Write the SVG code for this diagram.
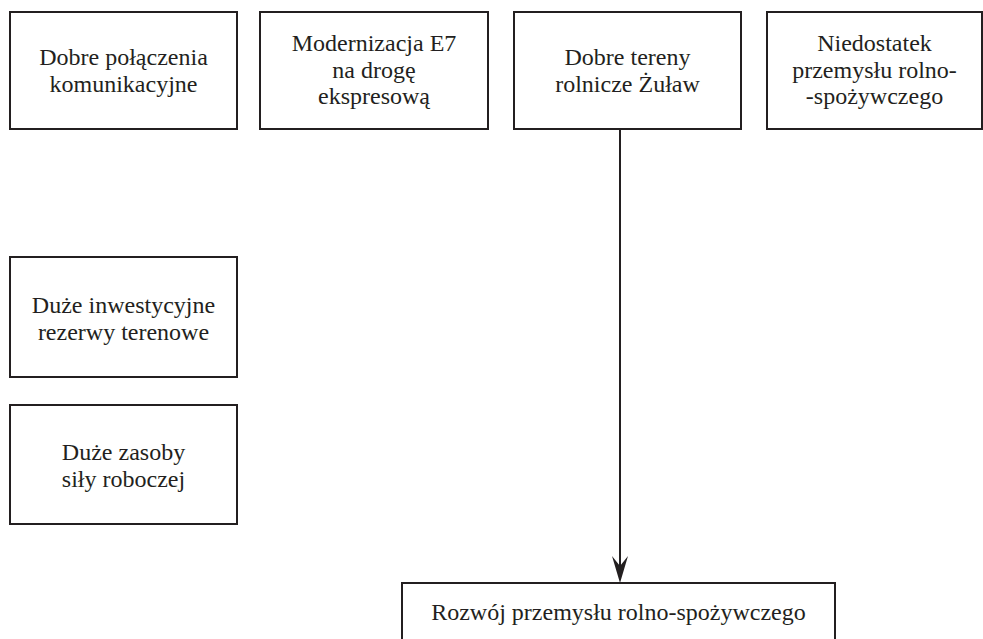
<svg xmlns="http://www.w3.org/2000/svg" width="983" height="639" viewBox="0 0 983 639">
<defs>
<style>
.box{fill:#fff;stroke:#231f20;stroke-width:2}
.t{font-family:"Liberation Serif","Times New Roman",serif;font-size:24px;fill:#231f20;text-anchor:middle}
.c{stroke:#231f20;stroke-width:2;fill:none}
.ah{fill:#231f20;stroke:none}
</style>
</defs>
<rect width="983" height="639" fill="#fff"/>
<g id="n1"><rect class="box" x="10" y="12" width="227" height="117"/>
<text class="t" x="123.5" y="65">Dobre połączenia</text><text class="t" x="123.5" y="92">komunikacyjne</text></g>
<g id="n2"><rect class="box" x="260" y="12" width="228" height="117"/>
<text class="t" x="374" y="51">Modernizacja E7</text><text class="t" x="374" y="77.5">na drogę</text><text class="t" x="374" y="104">ekspresową</text></g>
<g id="n3"><rect class="box" x="514" y="12" width="227" height="117"/>
<text class="t" x="627.5" y="65">Dobre tereny</text><text class="t" x="627.5" y="92">rolnicze Żuław</text></g>
<g id="n4"><rect class="box" x="767" y="12" width="215" height="117"/>
<text class="t" x="874.5" y="51">Niedostatek</text><text class="t" x="874.5" y="77.5">przemysłu rolno-</text><text class="t" x="874.5" y="104">-spożywczego</text></g>
<g id="n5"><rect class="box" x="10" y="257" width="227" height="120"/>
<text class="t" x="123.5" y="313">Duże inwestycyjne</text><text class="t" x="123.5" y="340">rezerwy terenowe</text></g>
<g id="n6"><rect class="box" x="10" y="405" width="227" height="119"/>
<text class="t" x="123.5" y="460">Duże zasoby</text><text class="t" x="123.5" y="487">siły roboczej</text></g>
<g id="n7"><rect class="box" x="402" y="583" width="433" height="70"/>
<text class="t" x="618.5" y="620">Rozwój przemysłu rolno-spożywczego</text></g>
<g id="connectors">
<line class="c" x1="620" y1="129" x2="620" y2="570"/>
<path class="ah" d="M620 583 L612 556 L620 566 L628 556 Z"/>
</g>
</svg>
